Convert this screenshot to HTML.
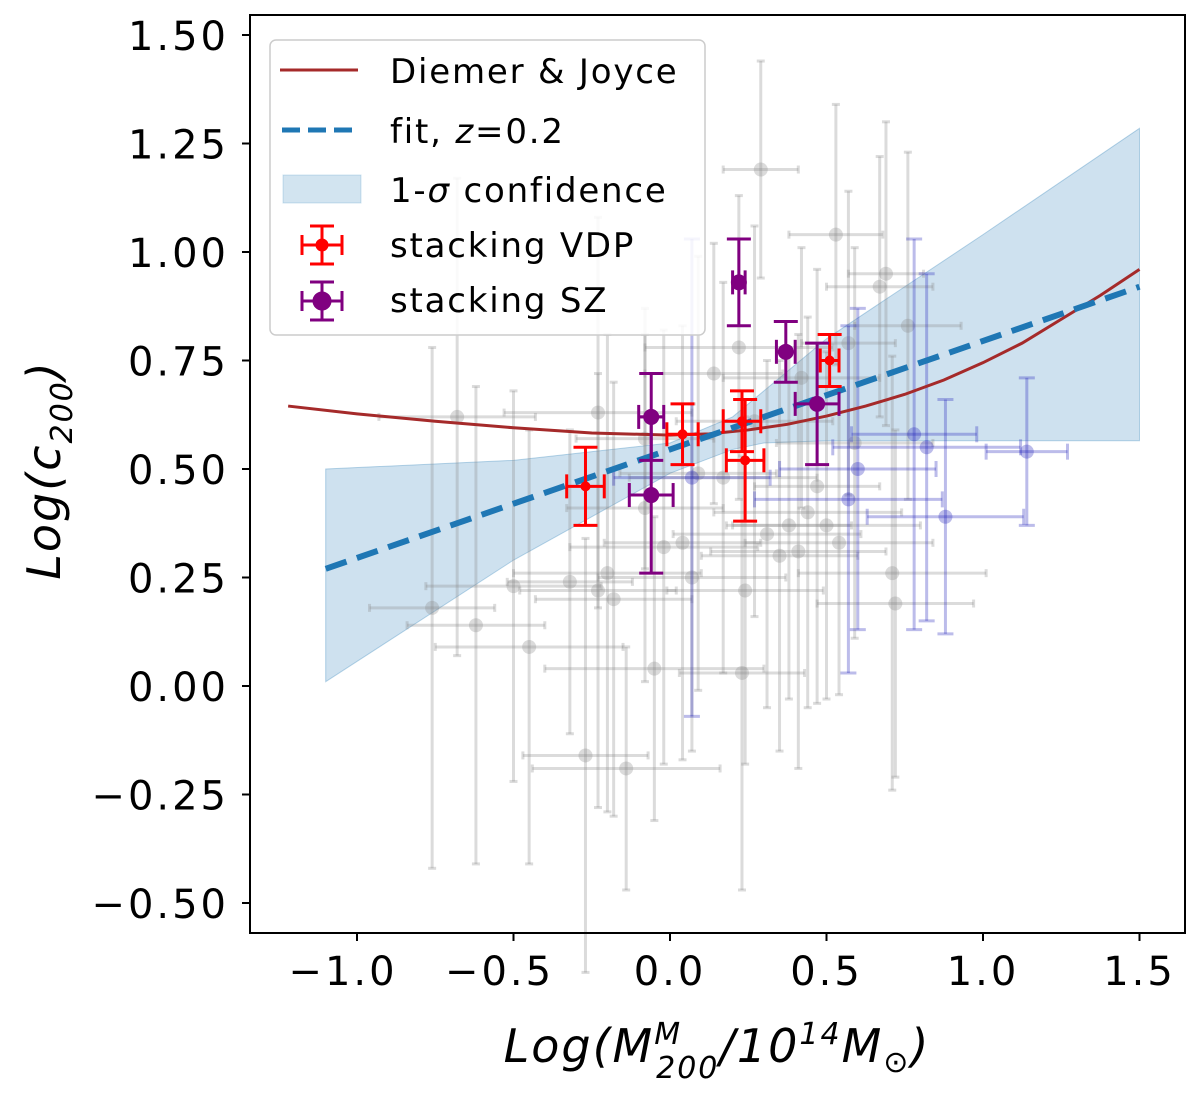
<!DOCTYPE html>
<html><head><meta charset="utf-8"><style>
body{margin:0;background:#fff;}
svg{display:block;font-family:"DejaVu Sans","Liberation Sans",sans-serif;}
</style></head><body>
<svg id="chart" width="1200" height="1095">
<rect x="0" y="0" width="1200" height="1095" fill="#fff"/>
<g id="plot"></g>
<rect x="250" y="15" width="935" height="918" fill="none" stroke="#000" stroke-width="2"/>
<g id="ticks"></g>
<text x="717" y="1062" font-size="46" letter-spacing="2" text-anchor="middle" font-style="italic">Log(M<tspan font-size="30" dy="-18">M</tspan><tspan font-size="30" dx="-26" dy="34">200</tspan><tspan dy="-16">/10</tspan><tspan font-size="30" dy="-18">14</tspan><tspan dy="18">M</tspan><tspan font-size="30" dy="10">⊙</tspan><tspan dy="-10">)</tspan></text>
<text transform="translate(60,470) rotate(-90)" font-size="46" letter-spacing="2" text-anchor="middle" font-style="italic">Log(c<tspan font-size="30" dy="12">200</tspan><tspan dy="-12">)</tspan></text>
<g>
<rect x="270" y="40" width="435" height="295" rx="6" fill="#fff" fill-opacity="0.85" stroke="#ccc" stroke-width="1.5"/>
<line x1="280" y1="70" x2="358" y2="70" stroke="#a52a2a" stroke-width="3"/>
<text x="390" y="83" font-size="34" letter-spacing="1.8">Diemer &amp; Joyce</text>
<line x1="282" y1="130" x2="358" y2="130" stroke="#1f77b4" stroke-width="5" stroke-dasharray="18,8"/>
<text x="390" y="143" font-size="34" letter-spacing="1.8">fit, <tspan font-style="italic">z</tspan>=0.2</text>
<rect x="283" y="175" width="78" height="28" fill="#1f77b4" fill-opacity="0.2" stroke="#1f77b4" stroke-opacity="0.2"/>
<text x="390" y="202" font-size="34" letter-spacing="1.8">1-<tspan font-style="italic">σ</tspan> confidence</text>
<g stroke="red" stroke-width="3"><line x1="322" y1="226" x2="322" y2="264"/><line x1="310" y1="226" x2="334" y2="226"/><line x1="310" y1="264" x2="334" y2="264"/><line x1="302" y1="245" x2="342" y2="245"/><line x1="302" y1="235" x2="302" y2="255"/><line x1="342" y1="235" x2="342" y2="255"/><circle cx="322" cy="245" r="5" fill="red"/></g>
<text x="390" y="257" font-size="34" letter-spacing="1.8">stacking VDP</text>
<g stroke="purple" stroke-width="3"><line x1="322" y1="282" x2="322" y2="320"/><line x1="310" y1="282" x2="334" y2="282"/><line x1="310" y1="320" x2="334" y2="320"/><line x1="302" y1="301" x2="342" y2="301"/><line x1="302" y1="291" x2="302" y2="311"/><line x1="342" y1="291" x2="342" y2="311"/><circle cx="322" cy="301" r="8" fill="purple"/></g>
<text x="390" y="312" font-size="34" letter-spacing="1.8">stacking SZ</text>
</g>
</svg>
<script>
const xTicks=[-1.0,-0.5,0.0,0.5,1.0,1.5];
const xTickLabels=["−1.0","−0.5","0.0","0.5","1.0","1.5"];
const yTicks=[1.5,1.25,1.0,0.75,0.5,0.25,0.0,-0.25,-0.5];
const yTickLabels=["1.50","1.25","1.00","0.75","0.50","0.25","0.00","−0.25","−0.50"];
const grayX=[-0.76,-0.68,-0.62,-0.50,-0.45,-0.32,-0.27,-0.23,-0.23,-0.20,-0.18,-0.14,-0.08,-0.05,-0.02,-0.08,0.04,0.07,0.09,0.14,0.17,0.22,0.23,0.24,0.27,0.29,0.31,0.35,0.38,0.41,0.42,0.44,0.47,0.50,0.53,0.54,0.57,0.59,0.67,0.69,0.71,0.72,0.76];
const grayY=[0.18,0.62,0.14,0.23,0.09,0.24,-0.16,0.63,0.22,0.26,0.20,-0.19,0.41,0.04,0.32,0.57,0.33,0.25,0.49,0.72,0.48,0.78,0.03,0.22,0.61,1.19,0.35,0.30,0.37,0.31,0.71,0.40,0.46,0.37,1.04,0.33,0.79,0.56,0.92,0.95,0.26,0.19,0.83];
const grayXErr=[0.2,0.25,0.22,0.28,0.3,0.2,0.2,0.3,0.25,0.3,0.25,0.3,0.25,0.35,0.3,0.22,0.25,0.3,0.25,0.22,0.3,0.3,0.2,0.25,0.25,0.12,0.3,0.25,0.2,0.28,0.25,0.3,0.2,0.3,0.15,0.3,0.15,0.25,0.17,0.12,0.3,0.25,0.17];
const grayYErr=[0.6,0.55,0.55,0.45,0.5,0.35,0.5,0.45,0.5,0.55,0.5,0.28,0.4,0.35,0.5,0.3,0.5,0.4,0.5,0.3,0.45,0.35,0.5,0.4,0.45,0.25,0.4,0.45,0.4,0.5,0.3,0.45,0.5,0.4,0.3,0.35,0.35,0.45,0.3,0.35,0.5,0.4,0.4];
const blueX=[0.07,0.57,0.60,0.78,0.82,0.88,1.14];
const blueY=[0.48,0.43,0.50,0.58,0.55,0.39,0.54];
const blueXErr=[0.25,0.3,0.25,0.2,0.3,0.25,0.13];
const blueYErr=[0.55,0.4,0.37,0.45,0.4,0.27,0.17];
const vdpX=[-0.27,0.04,0.23,0.24,0.51];
const vdpY=[0.46,0.58,0.61,0.52,0.75];
const vdpYErr=[0.09,0.07,0.07,0.14,0.06];
const vdpXErr=[0.06,0.05,0.06,0.06,0.03];
const szX=[-0.06,-0.06,0.22,0.37,0.47];
const szY=[0.62,0.44,0.93,0.77,0.65];
const szYErr=[0.1,0.18,0.1,0.07,0.14];
const szXErr=[0.04,0.07,0.02,0.03,0.07];
const diemerX=[-1.22,-1.0,-0.75,-0.5,-0.25,0.0,0.125,0.25,0.375,0.5,0.625,0.75,0.875,1.0,1.125,1.25,1.375,1.5];
const diemerY=[0.645,0.627,0.61,0.595,0.583,0.578,0.581,0.59,0.603,0.622,0.645,0.672,0.705,0.745,0.79,0.845,0.9,0.96];
const fitX=[-1.1,1.5];
const fitY=[0.27,0.92];
const bandX=[-1.1,-0.5,0.0,0.2,0.3,0.5,1.0,1.5];
const bandLo=[0.01,0.29,0.49,0.545,0.56,0.565,0.565,0.565];
const bandHi=[0.50,0.52,0.56,0.62,0.68,0.80,1.04,1.285];

const X=v=>670+313*v, Y=v=>686-434*v;
const NS='http://www.w3.org/2000/svg';
const plot=document.getElementById('plot'), ticks=document.getElementById('ticks');
function mk(tag,attrs,parent){const e=document.createElementNS(NS,tag);for(const k in attrs)e.setAttribute(k,attrs[k]);parent.appendChild(e);return e;}

const band=mk('polygon',{points:bandX.map((x,i)=>X(x)+','+Y(bandHi[i])).concat(bandX.slice().reverse().map((x,i)=>X(x)+','+Y(bandLo[bandX.length-1-i]))).join(' '),fill:'#1f77b4','fill-opacity':0.22,stroke:'#1f77b4','stroke-opacity':0.3},plot);



function errbar(x,y,xe,ye,color,op,w,cap,r,name){
  const g=mk('g',{stroke:color,'stroke-opacity':op,'stroke-width':w,fill:color,'fill-opacity':op},plot);
  
  
  mk('line',{x1:X(x),y1:Y(y-ye),x2:X(x),y2:Y(y+ye)},g);
  mk('line',{x1:X(x-xe),y1:Y(y),x2:X(x+xe),y2:Y(y)},g);
  mk('line',{x1:X(x)-cap,y1:Y(y-ye),x2:X(x)+cap,y2:Y(y-ye)},g);
  mk('line',{x1:X(x)-cap,y1:Y(y+ye),x2:X(x)+cap,y2:Y(y+ye)},g);
  mk('line',{x1:X(x-xe),y1:Y(y)-cap,x2:X(x-xe),y2:Y(y)+cap},g);
  mk('line',{x1:X(x+xe),y1:Y(y)-cap,x2:X(x+xe),y2:Y(y)+cap},g);
  mk('circle',{cx:X(x),cy:Y(y),r:r,stroke:'none'},g);
}
grayX.forEach((x,i)=>errbar(x,grayY[i],grayXErr[i],grayYErr[i],'#888',0.3,3,4,7,'gray-point'));
blueX.forEach((x,i)=>errbar(x,blueY[i],blueXErr[i],blueYErr[i],'#2222bb',0.3,3,8,7,'blue-point'));

const dm=mk('polyline',{points:diemerX.map((x,i)=>X(x)+','+Y(diemerY[i])).join(' '),fill:'none',stroke:'#a52a2a','stroke-width':3},plot);


const ft=mk('polyline',{points:fitX.map((x,i)=>X(x)+','+Y(fitY[i])).join(' '),fill:'none',stroke:'#1f77b4','stroke-width':6,'stroke-dasharray':'22,11'},plot);



vdpX.forEach((x,i)=>errbar(x,vdpY[i],vdpXErr[i],vdpYErr[i],'red',1,3,12,5,'vdp-point'));
szX.forEach((x,i)=>errbar(x,szY[i],szXErr[i],szYErr[i],'purple',1,3,12,8,'sz-point'));

xTicks.forEach((v,i)=>{
  mk('line',{x1:X(v),y1:933,x2:X(v),y2:941,stroke:'#000','stroke-width':2},ticks);
  const t=mk('text',{x:X(v)-(v<0?14:0),y:985,'font-size':40,'letter-spacing':3,'text-anchor':'middle'},ticks);t.textContent=xTickLabels[i];
  
  
});
yTicks.forEach((v,i)=>{
  mk('line',{x1:242,y1:Y(v),x2:250,y2:Y(v),stroke:'#000','stroke-width':2},ticks);
  const t=mk('text',{x:229,y:Y(v)+15,'font-size':40,'letter-spacing':3,'text-anchor':'end'},ticks);t.textContent=yTickLabels[i];
  
  
});
</script>
</body></html>
